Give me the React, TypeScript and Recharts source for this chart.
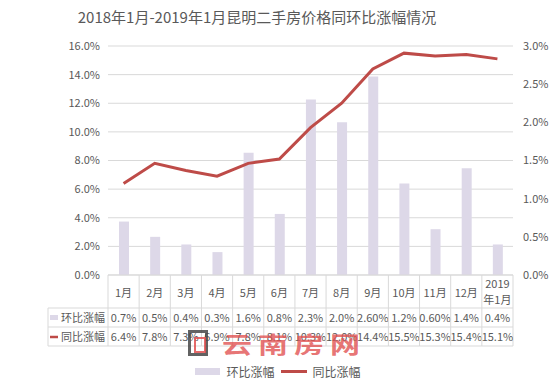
import { ComposedChart, Bar, Line, XAxis, YAxis, CartesianGrid, Legend } from 'recharts'

const months = ['1月', '2月', '3月', '4月', '5月', '6月', '7月', '8月', '9月', '10月', '11月', '12月', '2019年1月']
const huanbi = [0.7, 0.5, 0.4, 0.3, 1.6, 0.8, 2.3, 2.0, 2.6, 1.2, 0.6, 1.4, 0.4]
const huanbiText = ['0.7%', '0.5%', '0.4%', '0.3%', '1.6%', '0.8%', '2.3%', '2.0%', '2.60%', '1.2%', '0.60%', '1.4%', '0.4%']
const tongbi = [6.4, 7.8, 7.3, 6.9, 7.8, 8.1, 10.3, 12.0, 14.4, 15.5, 15.3, 15.4, 15.1]
const leftTicks = [0, 2, 4, 6, 8, 10, 12, 14, 16]
const rightTicks = [0, 0.5, 1, 1.5, 2, 2.5, 3]

const data = months.map((m, i) => ({ month: m, hb: huanbi[i], tb: tongbi[i] }))

const FONT = '"Noto Sans CJK SC", "Noto Sans", sans-serif'
const TEXT = '#595959'
const BORDER = '#D9D9D9'
const BAR = '#DDD8E8'
const LINE = '#BE4B48'
const CELL_W = 405 / months.length
const LABEL_W = 60
const ROW1 = 33
const ROW2 = 52
const ROW3 = 71

const TableTick = (props: any) => {
    const { x, y, payload } = props
    const i = payload.index
    const left = x - CELL_W / 2
    const right = x + CELL_W / 2
    const name: string = payload.value
    const parts = name.startsWith('2019') ? ['2019', name.slice(4)] : [name]
    return (
        <g fontFamily={FONT} fill={TEXT} fontSize={11}>
            {i === 0 && (
                <g>
                    <line x1={left - LABEL_W} x2={left} y1={y + ROW1} y2={y + ROW1} stroke={BORDER} />
                    <line x1={left - LABEL_W} x2={left} y1={y + ROW2} y2={y + ROW2} stroke={BORDER} />
                    <line x1={left - LABEL_W} x2={left} y1={y + ROW3} y2={y + ROW3} stroke={BORDER} />
                    <line x1={left - LABEL_W} x2={left - LABEL_W} y1={y + ROW1} y2={y + ROW3} stroke={BORDER} />
                    <rect x={left - LABEL_W + 2} y={y + ROW1 + 7} width={8} height={5} fill={BAR} />
                    <line x1={left - LABEL_W + 2} x2={left - LABEL_W + 10} y1={y + ROW2 + 10} y2={y + ROW2 + 10} stroke={LINE} strokeWidth={2.5} />
                    <text x={left - 3} y={y + ROW1 + 14} textAnchor="end" fontSize={11}>环比涨幅</text>
                    <text x={left - 3} y={y + ROW2 + 14} textAnchor="end" fontSize={11}>同比涨幅</text>
                </g>
            )}
            <line x1={left} x2={left} y1={y} y2={y + ROW3} stroke={BORDER} />
            {i === months.length - 1 && <line x1={right} x2={right} y1={y} y2={y + ROW3} stroke={BORDER} />}
            <line x1={left} x2={right} y1={y} y2={y} stroke={BORDER} />
            <line x1={left} x2={right} y1={y + ROW1} y2={y + ROW1} stroke={BORDER} />
            <line x1={left} x2={right} y1={y + ROW2} y2={y + ROW2} stroke={BORDER} />
            <line x1={left} x2={right} y1={y + ROW3} y2={y + ROW3} stroke={BORDER} />
            {parts.length === 1 ? (
                <text x={x} y={y + 22} textAnchor="middle">{parts[0]}</text>
            ) : (
                <>
                    <text x={x} y={y + 13} textAnchor="middle">{parts[0]}</text>
                    <text x={x} y={y + 29} textAnchor="middle">{parts[1]}</text>
                </>
            )}
            <text x={x} y={y + ROW1 + 14} textAnchor="middle">{huanbiText[i]}</text>
            <text x={x} y={y + ROW2 + 14} textAnchor="middle">{tongbi[i].toFixed(1)}%</text>
        </g>
    )
}

const LegendContent = () => (
    <div style={{ display: 'flex', justifyContent: 'center', alignItems: 'center', fontFamily: FONT, fontSize: 12, color: TEXT }}>
        <span style={{ display: 'inline-block', width: 25, height: 7, background: BAR, marginRight: 6 }} />
        <span style={{ marginRight: 6 }}>环比涨幅</span>
        <span style={{ display: 'inline-block', width: 26, height: 3, background: LINE, marginRight: 6 }} />
        <span>同比涨幅</span>
    </div>
)

export default function App() {
    return (
        <div style={{ position: 'absolute', left: 0, top: 0, width: 556, height: 392, background: '#fff' }}>
            <div style={{ position: 'absolute', top: 6, left: 0, width: 514, textAlign: 'center', fontFamily: FONT, fontSize: 15, color: TEXT }}>
                2018年1月-2019年1月昆明二手房价格同环比涨幅情况
            </div>
            <ComposedChart width={556} height={392} data={data} margin={{ top: 46, right: 0, bottom: 0, left: 48 }}>
                <CartesianGrid yAxisId="left" vertical={false} stroke={BORDER} />
                <XAxis dataKey="month" height={117} interval={0} axisLine={false} tickLine={false} tickSize={0} tickMargin={0} tick={<TableTick />} />
                <YAxis yAxisId="left" width={60} domain={[0, 16]} ticks={leftTicks} axisLine={false} tickLine={false}
                    tickFormatter={(v: number) => v.toFixed(1) + '%'} tick={{ fill: TEXT, fontSize: 11, fontFamily: FONT }} />
                <YAxis yAxisId="right" orientation="right" width={43} domain={[0, 3]} ticks={rightTicks} axisLine={false} tickLine={false} tickMargin={4}
                    tickFormatter={(v: number) => v.toFixed(1) + '%'} tick={{ fill: TEXT, fontSize: 11, fontFamily: FONT, textAnchor: 'start' }} />
                <Bar yAxisId="right" dataKey="hb" name="环比涨幅" fill={BAR} barSize={10} isAnimationActive={false} />
                <Line yAxisId="left" dataKey="tb" name="同比涨幅" stroke={LINE} strokeWidth={3} dot={false} isAnimationActive={false} />
                <Legend layout="horizontal" verticalAlign="middle" align="center" content={<LegendContent />}
                    wrapperStyle={{ top: 363, left: 0, width: 556 }} />
            </ComposedChart>
            {/* site watermark on top of the table, as in the source image */}
            <div style={{ position: 'absolute', left: 188, top: 328, display: 'flex', alignItems: 'center', pointerEvents: 'none' }}>
                <div style={{ width: 14, height: 20, border: '3px solid rgba(70,70,70,0.85)', marginRight: 14, position: 'relative' }}>
                    <div style={{ position: 'absolute', left: 3, top: 4, width: 8, height: 12, border: '2px solid rgba(225,80,80,0.85)' }} />
                </div>
                <span style={{ fontFamily: FONT, fontSize: 30, fontWeight: 700, letterSpacing: 6, color: 'rgba(225,80,80,0.8)', display: 'inline-block', transform: 'scaleY(0.75)', lineHeight: '30px' }}>云南房网</span>
            </div>
        </div>
    )
}
